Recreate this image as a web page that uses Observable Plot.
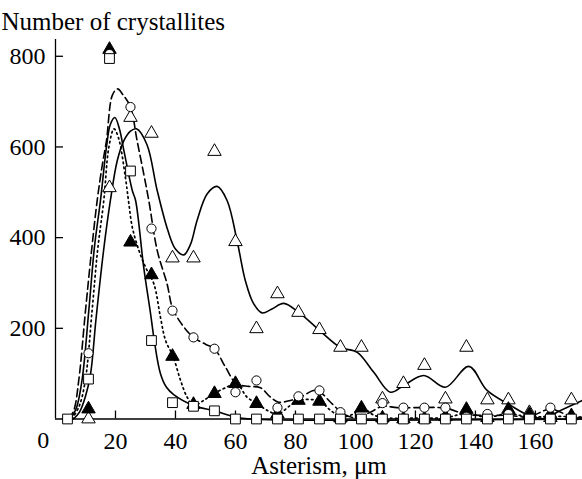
<!DOCTYPE html>
<html><head><meta charset="utf-8">
<script src="https://cdn.jsdelivr.net/npm/d3@7"></script>
<script src="https://cdn.jsdelivr.net/npm/@observablehq/plot@0.6"></script>
<style>
body{margin:0;background:#fff}
svg{display:block}
</style>
</head><body><div id="chart"></div>
<script>
// bin centres (µm)
const binX = [4,11,18,25,32,39,46,53,60,67,74,81,88,95,102,109,116,123,130,137,144,151,158,165,172];
// measured counts
const squares   = [0,88,795,547,173,36,28,18,0,0,0,0,0,0,0,0,0,0,0,0,0,0,0,0,0];
const circles   = [null,145,805,688,420,239,180,155,59,85,25,50,63,15,0,35,25,25,25,5,11,11,0,25,0];
const triOpen   = [null,0,510,665,630,355,355,590,391,199,276,235,197,158,158,44,78,118,44,158,42,42,14,3,42];
const triFilled = [null,22,815,390,318,138,32,56,78,34,11,41,39,2,24,2,0,0,5,21,3,21,10,10,7];

// fitted curves (knots)
const sqCurveX  = [5,7,8.9,11.1,13,15,17,18.3,19.8,21.3,22.8,25.6,26.7,29.4,31.7,33,35,37,39.4,46,53,60,65,176];
const sqCurveY  = [0,25,88,239,380,482,600,650,665,640,592,504,482,335,232,170,100,70,54,30,18,4,0,0];
const dashCurveX = [4.4,6.1,7.8,10,12,13.9,15.6,17,19,20.7,22.5,25,27.2,29.4,31.1,33.9,37.2,39,42,46,50,53,56.7,60.3,64.4,68.3,71.7,74.4,78.3,81.7,86.1,88.5,91.7,96.1,100,105,108.9,113.9,120,130,137,144,151,158,165,172,176];
const dashCurveY = [0,19,88,239,370,482,560,614,715,728,715,688,614,541,482,372,298,245,210,180,165,155,114,78,72,69,48,37,41,48,63,58,37,11,3,15,28,25,25,24,10,8,8,5,22,5,3];
const dotCurveX = [5.5,8,10,12.2,14,16.1,17.8,19.5,21,23.3,24.4,25.6,27.8,30,32.8,35,36.7,39.2,41.7,43.9,46.1,49.4,52.8,56.7,60.3,63.9,67.2,70.6,74.1,78.3,81.4,85,88.3,91.7,95.3,99,102.2,105.7,109.3,120,130,137,144,151,158,165,176];
const dotCurveY = [0,30,88,239,370,482,600,640,620,533,478,423,372,335,298,224,173,138,85,48,30,41,56,69,78,48,34,19,11,30,41,43,39,19,5,10,25,10,3,2,3,12,4,12,4,6,4];
const triCurveX = [6,8,10,11.7,13.5,16,18.3,20.6,22.8,25,27,30.5,33.9,37.5,40,42.8,45,47.2,50.6,53.9,57.2,60.6,63.3,66,68.9,72,76.1,81.1,88.1,95,100.6,106.1,111.7,116.1,122.8,130,137.8,143.9,151.7,157.8,163.3,167.2,176];
const triCurveY = [0,15,50,100,220,370,482,570,614,635,640,605,504,415,375,362,385,438,497,513,482,391,305,255,234,242,255,235,195,158,147,103,59,74,96,70,116,63,30,8,1,15,42];

// axis ticks
const xTickVals = [20,40,60,80,100,120,140,160];
const yTickVals = [200,400,600,800];

const pts = ys => binX.map((x,i)=>({x, y: ys[i]})).filter(d => d.y != null);
const knots = (xs, ys) => xs.map((x,i)=>({x, y: ys[i]}));
const font = "Liberation Serif";
const fs = 24;

const chart = Plot.plot({
  width: 582, height: 479,
  marginTop: 39, marginBottom: 60.5, marginLeft: 55, marginRight: 0,
  style: {background: "white", color: "black"},
  x: {domain: [0, 175.7]},
  y: {domain: [0, 837]},
  marks: [
    Plot.axisX(xTickVals, {tickSize: -8, tickPadding: 21, label: null, fontSize: fs, strokeWidth: 1.3}),
    Plot.axisY(yTickVals, {tickSize: -8, tickPadding: 18, label: null, fontSize: fs, strokeWidth: 1.3}),
    Plot.ruleX([0], {strokeWidth: 1.3}),
    Plot.ruleY([0], {strokeWidth: 1.5}),
    Plot.line(knots(sqCurveX, sqCurveY), {x: "x", y: "y", curve: "catmull-rom", stroke: "black", strokeWidth: 1.6}),
    Plot.line(knots(triCurveX, triCurveY), {x: "x", y: "y", curve: "catmull-rom", stroke: "black", strokeWidth: 1.6}),
    Plot.line(knots(dashCurveX, dashCurveY), {x: "x", y: "y", curve: "catmull-rom", stroke: "black", strokeWidth: 1.6, strokeDasharray: "8,4"}),
    Plot.line(knots(dotCurveX, dotCurveY), {x: "x", y: "y", curve: "catmull-rom", stroke: "black", strokeWidth: 1.7, strokeDasharray: "1.6,3.4"}),
    Plot.dot(pts(triOpen), {x: "x", y: "y", symbol: "triangle", r: 5, fill: "white", stroke: "black", strokeWidth: 1}),
    Plot.dot(pts(triFilled), {x: "x", y: "y", symbol: "triangle", r: 5, fill: "black", stroke: "black", strokeWidth: 1}),
    Plot.dot(pts(circles), {x: "x", y: "y", symbol: "circle", r: 4.6, fill: "white", stroke: "black", strokeWidth: 1}),
    Plot.dot(pts(squares), {x: "x", y: "y", symbol: "square", r: 5.5, fill: "white", stroke: "black", strokeWidth: 1}),
    Plot.text([0], {x: d => d, frameAnchor: "bottom", dy: 21.5, dx: -12.3, lineAnchor: "middle", fontSize: fs, text: d => String(d)}),
    Plot.text(["Number of crystallites"], {frameAnchor: "top-left", dx: -54, dy: -18, textAnchor: "start", lineAnchor: "middle", fontSize: 25}),
    Plot.text(["Asterism, μm"], {frameAnchor: "bottom", dy: 47, lineAnchor: "middle", fontSize: 25})
  ]
});
chart.setAttribute("font-family", font);
d3.select(chart).selectAll("g, text").attr("font-family", font).style("font-family", font);
document.getElementById("chart").appendChild(chart);
</script>
</body></html>
